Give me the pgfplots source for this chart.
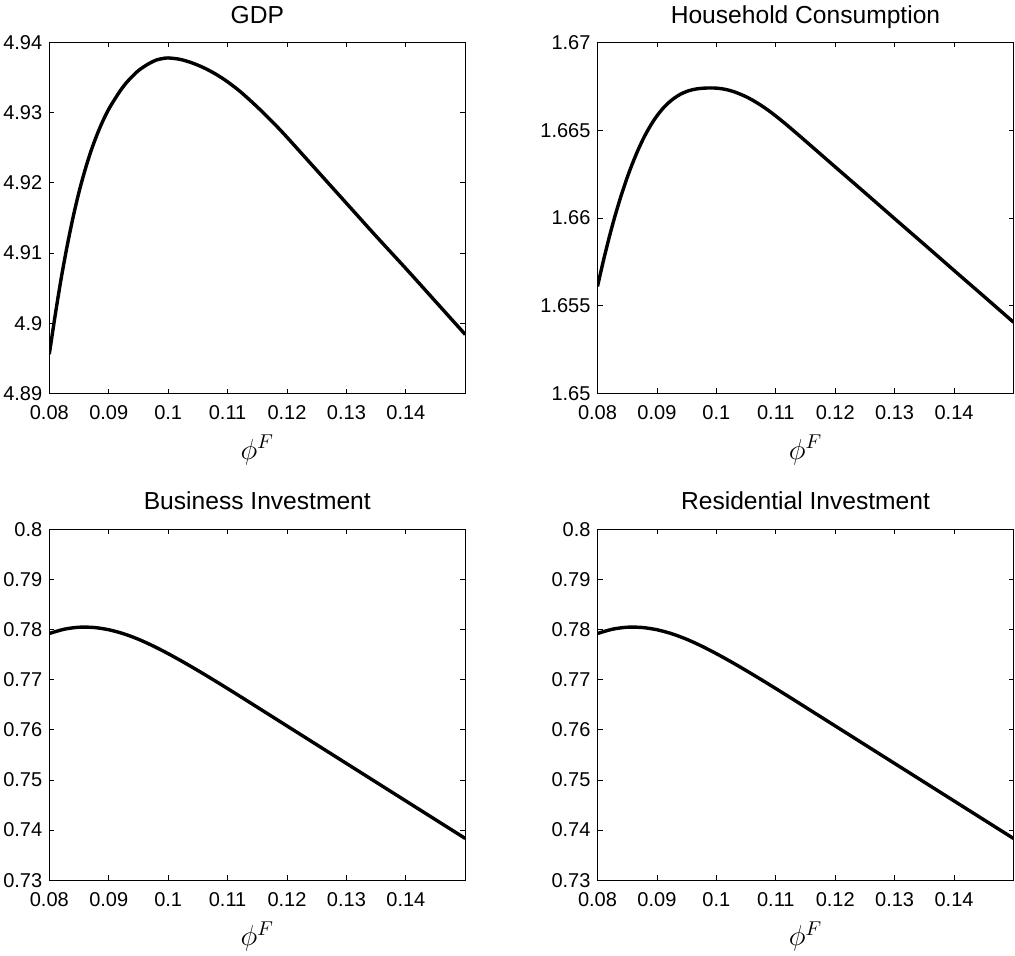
\documentclass[border=0pt]{standalone}
\usepackage[no-math]{fontspec}
\setmainfont{Liberation Sans}
\usepackage{pgfplots}
\pgfplotsset{compat=1.18}

\pgfplotstableread{
x y
0.0800 4.8956
0.0810 4.9012
0.0820 4.9064
0.0830 4.9110
0.0840 4.9151
0.0850 4.9187
0.0860 4.9218
0.0870 4.9245
0.0880 4.9268
0.0890 4.9288
0.0900 4.9305
0.0910 4.9319
0.0920 4.9332
0.0930 4.9343
0.0940 4.9352
0.0950 4.9360
0.0960 4.9366
0.0970 4.9371
0.0980 4.9375
0.0990 4.9377
0.1000 4.9378
0.1020 4.9376
0.1040 4.9371
0.1060 4.9364
0.1080 4.9355
0.1100 4.9344
0.1120 4.9331
0.1140 4.9316
0.1160 4.9300
0.1180 4.9283
0.1200 4.9265
0.1250 4.9218
0.1300 4.9171
0.1350 4.9124
0.1400 4.9078
0.1450 4.9031
0.1500 4.8984
}\gdp

\pgfplotstableread{
x y
0.0800 1.65610
0.0810 1.65758
0.0820 1.65894
0.0830 1.66018
0.0840 1.66130
0.0850 1.66231
0.0860 1.66321
0.0870 1.66401
0.0880 1.66471
0.0890 1.66531
0.0900 1.66582
0.0910 1.66624
0.0920 1.66658
0.0930 1.66685
0.0940 1.66706
0.0950 1.66721
0.0960 1.66731
0.0970 1.66737
0.0980 1.66740
0.0990 1.66741
0.1000 1.66740
0.1010 1.66736
0.1020 1.66729
0.1030 1.66719
0.1040 1.66706
0.1050 1.66691
0.1060 1.66673
0.1070 1.66653
0.1080 1.66631
0.1090 1.66607
0.1100 1.66581
0.1110 1.66554
0.1120 1.66526
0.1130 1.66497
0.1140 1.66468
0.1200 1.66291
0.1250 1.66144
0.1300 1.65996
0.1350 1.65849
0.1400 1.65701
0.1450 1.65554
0.1500 1.65406
}\hc

\pgfplotstableread{
x y
0.0800 0.77920
0.0825 0.78005
0.0850 0.78045
0.0875 0.78040
0.0900 0.77995
0.0925 0.77915
0.0950 0.77805
0.0975 0.77670
0.1000 0.77518
0.1025 0.77354
0.1050 0.77182
0.1075 0.77004
0.1100 0.76822
0.1125 0.76637
0.1150 0.76450
0.1175 0.76263
0.1200 0.76076
0.1250 0.75702
0.1300 0.75328
0.1350 0.74954
0.1400 0.74580
0.1450 0.74206
0.1500 0.73832
}\bi

\pgfplotstableread{
x y
0.0800 0.77920
0.0825 0.78005
0.0850 0.78045
0.0875 0.78040
0.0900 0.77995
0.0925 0.77915
0.0950 0.77805
0.0975 0.77670
0.1000 0.77518
0.1025 0.77354
0.1050 0.77182
0.1075 0.77004
0.1100 0.76822
0.1125 0.76637
0.1150 0.76450
0.1175 0.76263
0.1200 0.76076
0.1250 0.75702
0.1300 0.75328
0.1350 0.74954
0.1400 0.74580
0.1450 0.74206
0.1500 0.73832
}\ri

\pgfplotsset{
  every axis title/.style={at={(0.5,1)}, anchor=base, yshift=9.7pt, font=\fontsize{12.3}{14}\selectfont},
  every axis x label/.style={at={(axis description cs:0.5,0)}, anchor=base, yshift=-32.9pt, font=\fontsize{14}{16}\selectfont},
  mystyle/.style={
    scale only axis, width=208pt, height=175.5pt,
    anchor=north west,
    xmin=0.08, xmax=0.15,
    xtick={0.08,0.09,0.1,0.11,0.12,0.13,0.14},
    xticklabels={0.08,0.09,0.1,0.11,0.12,0.13,0.14},
    scaled ticks=false,
    /pgf/number format/assume math mode=true,
    tick align=inside, major tick length=2.5pt,
    axis line style={line width=0.6pt},
    every tick/.style={black, line width=0.4pt},
    tick label style={font=\fontsize{10}{12}\selectfont},
    xticklabel style={yshift=-2.5pt},
    xlabel={$\phi^F$},
  },
}

\begin{document}
\begin{tikzpicture}
\path[use as bounding box] (0,0) rectangle (507.5pt,-478pt);

\begin{axis}[mystyle, at={(24.65pt,-21.25pt)}, title={GDP},
  ymin=4.89, ymax=4.94,
  ytick={4.89,4.90,4.91,4.92,4.93,4.94},
  yticklabels={4.89,4.9,4.91,4.92,4.93,4.94}]
\addplot[black, line width=1.7pt, smooth] table[x=x,y=y] {\gdp};
\end{axis}

\begin{axis}[mystyle, at={(298.75pt,-21.25pt)}, title={Household Consumption},
  ymin=1.65, ymax=1.67,
  ytick={1.65,1.655,1.66,1.665,1.67},
  yticklabels={1.65,1.655,1.66,1.665,1.67}]
\addplot[black, line width=1.7pt, smooth] table[x=x,y=y] {\hc};
\end{axis}

\begin{axis}[mystyle, at={(24.65pt,-264.6pt)}, title={Business Investment},
  ymin=0.73, ymax=0.8,
  ytick={0.73,0.74,0.75,0.76,0.77,0.78,0.79,0.8},
  yticklabels={0.73,0.74,0.75,0.76,0.77,0.78,0.79,0.8}]
\addplot[black, line width=1.7pt, smooth] table[x=x,y=y] {\bi};
\end{axis}

\begin{axis}[mystyle, at={(298.75pt,-264.6pt)}, title={Residential Investment},
  ymin=0.73, ymax=0.8,
  ytick={0.73,0.74,0.75,0.76,0.77,0.78,0.79,0.8},
  yticklabels={0.73,0.74,0.75,0.76,0.77,0.78,0.79,0.8}]
\addplot[black, line width=1.7pt, smooth] table[x=x,y=y] {\ri};
\end{axis}
\end{tikzpicture}
\end{document}
